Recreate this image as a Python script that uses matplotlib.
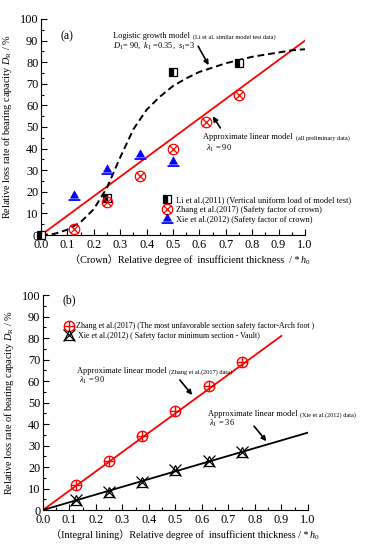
import matplotlib
matplotlib.use("Agg")
import matplotlib.pyplot as plt
from matplotlib.path import Path
from matplotlib.ticker import MultipleLocator

plt.rcParams['font.family'] = ['Liberation Serif', 'Noto Sans CJK SC', 'DejaVu Sans']
plt.rcParams['mathtext.fontset'] = 'custom'
plt.rcParams['mathtext.rm'] = 'Liberation Serif'
plt.rcParams['mathtext.it'] = 'Liberation Serif:italic'
plt.rcParams['mathtext.bf'] = 'Liberation Serif:bold'

# ---------------- data: panel (a) ----------------
li_x = [0.0, 0.25, 0.5, 0.75]
li_y = [0.0, 17.0, 75.5, 79.5]
zhang_a_x = [0.125, 0.25, 0.375, 0.5, 0.625, 0.75]
zhang_a_y = [3.0, 15.5, 27.5, 40.0, 52.5, 65.0]
xie_a_x = [0.125, 0.25, 0.375, 0.5]
xie_a_y = [18.0, 30.0, 37.0, 34.0]
lin_a_x = [0.0, 1.0]
lin_a_y = [0.0, 90.0]
logi_x = [0.0, 0.05, 0.1, 0.15, 0.2, 0.25, 0.3, 0.35, 0.4, 0.45, 0.5, 0.55,
          0.6, 0.65, 0.7, 0.75, 0.8, 0.85, 0.9, 0.95, 1.0]
logi_y = [0.0, 0.5, 2.5, 6.0, 12.0, 22.0, 36.0, 49.0, 58.0, 64.0, 69.0, 72.5,
          75.5, 77.5, 79.5, 81.0, 82.5, 83.5, 84.5, 85.5, 86.0]

# ---------------- data: panel (b) ----------------
zhang_b_x = [0.125, 0.25, 0.375, 0.5, 0.625, 0.75]
zhang_b_y = [11.5, 23.0, 34.5, 46.0, 57.5, 69.0]
xie_b_x = [0.125, 0.25, 0.375, 0.5, 0.625, 0.75]
xie_b_y = [4.5, 8.5, 13.0, 18.5, 23.0, 27.0]
lin_b1_x = [0.0, 0.9]
lin_b1_y = [0.0, 81.0]
lin_b2_x = [0.0, 1.0]
lin_b2_y = [0.0, 36.0]

xticks = [0.0, 0.1, 0.2, 0.3, 0.4, 0.5, 0.6, 0.7, 0.8, 0.9, 1.0]
yticks = [0, 10, 20, 30, 40, 50, 60, 70, 80, 90, 100]

# custom marker: triangle with underline bar
tri_bar = Path(
    [(-0.72, -0.30), (0.72, -0.30), (0.0, 1.0), (-0.72, -0.30),
     (-1.0, -0.75), (1.0, -0.75), (1.0, -0.52), (-1.0, -0.52), (-1.0, -0.75)],
    [Path.MOVETO, Path.LINETO, Path.LINETO, Path.CLOSEPOLY,
     Path.MOVETO, Path.LINETO, Path.LINETO, Path.LINETO, Path.CLOSEPOLY])

fig = plt.figure(figsize=(3.67, 5.5), dpi=100)
ax1 = fig.add_axes([0.112, 0.5727, 0.719, 0.3928])
ax2 = fig.add_axes([0.117, 0.0727, 0.722, 0.3909])


def style_axes(ax, xlabel, xlab_pos):
    ax.set_xlim(0, 1.0)
    ax.set_ylim(0, 100)
    for s in ['top', 'right']:
        ax.spines[s].set_visible(False)
    ax.set_xticks(xticks)
    ax.set_xticklabels([f"{t:.1f}" for t in xticks])
    ax.set_yticks(yticks)
    ax.set_yticklabels([str(t) for t in yticks])
    ax.xaxis.set_minor_locator(MultipleLocator(0.05))
    ax.yaxis.set_minor_locator(MultipleLocator(5))
    ax.tick_params(which='major', direction='in', length=4, width=0.8, labelsize=8.8, pad=2)
    ax.tick_params(axis='x', which='major', pad=3)
    ax.tick_params(which='minor', direction='in', length=2, width=0.8)
    ax.set_xlabel(xlabel, fontsize=7.3, labelpad=4)
    ax.xaxis.set_label_coords(xlab_pos, -0.09)
    ax.annotate("$h_0$", xy=(1, 0), xycoords=ax.xaxis.label, xytext=(0.5, -1.5),
                textcoords='offset points', fontsize=7.3, ha='left', va='bottom',
                annotation_clip=False)
    ax.set_ylabel(r"Relative loss rate of bearing capacity $D_{\mathrm{R}}$ / %",
                  fontsize=7.4, labelpad=4)


def two_part(ax, x, y, big, small, bs=6.0, ss=4.5):
    t = ax.text(x, y, big, fontsize=bs, ha='left', va='baseline')
    ax.annotate(small, xy=(1, 0), xycoords=t, xytext=(2, 0), textcoords='offset points',
                fontsize=ss, ha='left', va='bottom', annotation_clip=False)
    return t

# ---------------- panel (a) ----------------
style_axes(ax1, "（Crown）Relative degree of  insufficient thickness  / *", 0.545)
ax1.plot(lin_a_x, lin_a_y, color='red', lw=1.3, zorder=2)
ax1.plot(logi_x, logi_y, color='black', lw=1.4, ls=(0, (3.5, 2.0)), zorder=2)
h_li, = ax1.plot(li_x, li_y, ls='none', marker='s', ms=6, mfc='black', mfcalt='white',
                 fillstyle='left', mec='black', mew=0.9, clip_on=False, zorder=4)
h_zc, = ax1.plot(zhang_a_x, zhang_a_y, ls='none', marker='o', ms=7.5, mfc='none', mec='red',
                 mew=0.9, clip_on=False, zorder=4)
h_zx, = ax1.plot(zhang_a_x, zhang_a_y, ls='none', marker='x', ms=5.5, mec='red', mew=0.9,
                 clip_on=False, zorder=4)
h_xie, = ax1.plot(xie_a_x, xie_a_y, ls='none', marker=tri_bar, ms=8, mfc='blue', mec='blue',
                  mew=0.5, clip_on=False, zorder=4)

ax1.text(0.072, 90.7, "(a)", fontsize=8.5)
two_part(ax1, 0.273, 91.4, "Logistic growth model", "(Li et al. similar model test data)")
ax1.text(0.273, 86.6, r"$D_1$= 90,  $k_1$ =0.35,  $s_1$=3", fontsize=6.0)
ax1.annotate("", xy=(0.64, 77.5), xytext=(0.59, 88.5),
             arrowprops=dict(arrowstyle='-|>', color='black', lw=1.2, mutation_scale=7))
two_part(ax1, 0.614, 44.6, "Approximate linear model", "(all preliminary data)")
ax1.text(0.625, 39.0, r"$\lambda_1$ = 90", fontsize=6.0)
ax1.annotate("", xy=(0.645, 56.0), xytext=(0.685, 48.5),
             arrowprops=dict(arrowstyle='-|>', color='black', lw=1.2, mutation_scale=7))

ax1.legend([h_li, (h_zc, h_zx), h_xie],
           ["Li et al.(2011) (Vertical uniform load of model test)",
            "Zhang et al.(2017) (Safety factor of crown)",
            "Xie et al.(2012) (Safety factor of crown)"],
           loc='upper left', bbox_to_anchor=(0.44, 0.205), frameon=False, fontsize=6.0,
           handlelength=1.2, handletextpad=0.4, labelspacing=0.25, borderpad=0.1)

# ---------------- panel (b) ----------------
style_axes(ax2, "（Integral lining）Relative degree of  insufficient thickness / *", 0.515)
ax2.plot(lin_b1_x, lin_b1_y, color='red', lw=1.3, zorder=2)
ax2.plot(lin_b2_x, lin_b2_y, color='black', lw=1.3, zorder=2)
h_bzc, = ax2.plot(zhang_b_x, zhang_b_y, ls='none', marker='o', ms=7.5, mfc='none', mec='red',
                  mew=1.0, zorder=4)
h_bzp, = ax2.plot(zhang_b_x, zhang_b_y, ls='none', marker='+', ms=7.5, mec='red', mew=1.0, zorder=4)
h_bxt, = ax2.plot(xie_b_x, xie_b_y, ls='none', marker='^', ms=7.5, mfc='none', mec='black',
                  mew=0.9, zorder=4)
h_bxx, = ax2.plot(xie_b_x, xie_b_y, ls='none', marker='x', ms=9, mec='black', mew=0.9, zorder=4)

ax2.text(0.072, 96.3, "(b)", fontsize=8.5)
two_part(ax2, 0.128, 63.9, "Approximate linear model", "(Zhang et al.(2017) data)")
ax2.text(0.135, 59.2, r"$\lambda_1$ = 90", fontsize=6.0)
ax2.annotate("", xy=(0.57, 52.5), xytext=(0.51, 61.5),
             arrowprops=dict(arrowstyle='-|>', color='black', lw=1.2, mutation_scale=7))
two_part(ax2, 0.623, 43.9, "Approximate linear model", "(Xie et al.(2012) data)")
ax2.text(0.628, 39.0, r"$\lambda_1$ = 36", fontsize=6.0)
ax2.annotate("", xy=(0.85, 31.0), xytext=(0.79, 40.0),
             arrowprops=dict(arrowstyle='-|>', color='black', lw=1.2, mutation_scale=7))

ax2.legend([(h_bzc, h_bzp), (h_bxt, h_bxx)],
           ["Zhang et al.(2017) (The most unfavorable section safety factor-Arch foot )",
            " Xie et al.(2012) ( Safety factor minimum section - Vault)"],
           loc='upper left', bbox_to_anchor=(0.065, 0.895), frameon=False, fontsize=5.8,
           handlelength=1.0, handletextpad=0.4, labelspacing=0.2, borderpad=0.1)

fig.savefig("out.png", dpi=100)
